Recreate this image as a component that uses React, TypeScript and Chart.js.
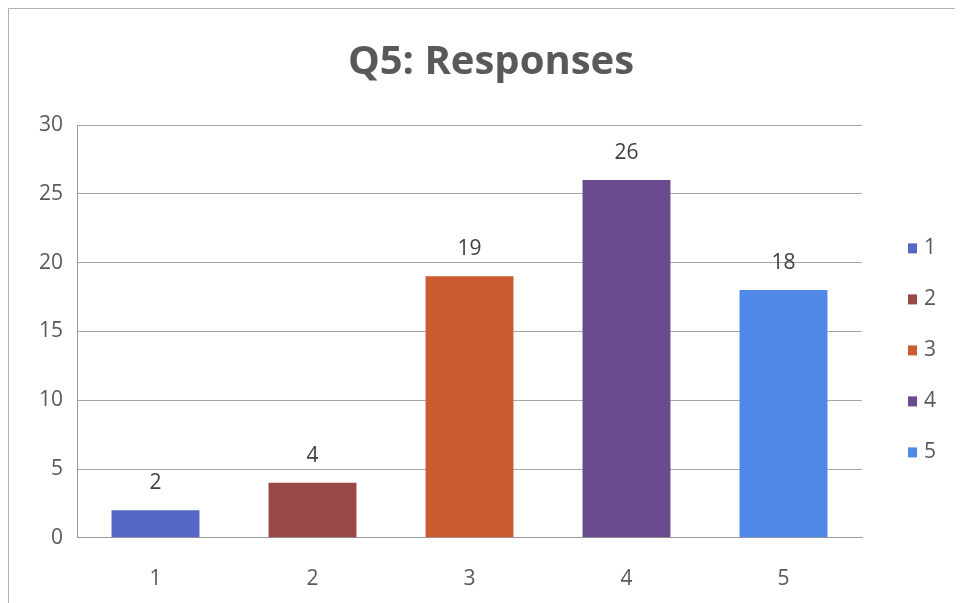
import React, { useEffect, useRef } from "react";
import { Chart, registerables } from "chart.js";

Chart.register(...registerables);

const categories = ["1", "2", "3", "4", "5"];
const responses = [2, 4, 19, 26, 18];
const barColors = ["#5566c4", "#984846", "#cc5a30", "#694a8c", "#4f88e6"];
const yTicks = [0, 5, 10, 15, 20, 25, 30];
const titleText = "Q5: Responses";

const FONT = "'Open Sans', Lato, sans-serif";
const TEXT_COLOR = "#595959";
const LABEL_SIZE = 21;

// Writes each bar's value centred above it.
const valueLabels = {
  id: "valueLabels",
  afterDatasetsDraw(chart: any) {
    const ctx = chart.ctx;
    const meta = chart.getDatasetMeta(0);
    ctx.save();
    ctx.font = `${LABEL_SIZE}px ${FONT}`;
    ctx.fillStyle = "#404040";
    ctx.textAlign = "center";
    ctx.textBaseline = "middle";
    meta.data.forEach((bar: any, i: number) => {
      ctx.fillText(String(responses[i]), bar.x, bar.y - 27);
    });
    ctx.restore();
  },
};

// Legend column to the right of the plot: one coloured square per category.
const sideLegend = {
  id: "sideLegend",
  afterDraw(chart: any) {
    const { ctx, chartArea } = chart;
    const step = 51;
    const cy = (chartArea.top + chartArea.bottom) / 2 + 19;
    const x0 = chartArea.right + 46;
    ctx.save();
    ctx.font = `${LABEL_SIZE}px ${FONT}`;
    ctx.textAlign = "left";
    ctx.textBaseline = "middle";
    categories.forEach((c, i) => {
      const y = cy + (i - (categories.length - 1) / 2) * step;
      ctx.fillStyle = barColors[i];
      ctx.fillRect(x0, y - 5, 9, 10);
      ctx.fillStyle = TEXT_COLOR;
      ctx.fillText(c, x0 + 16, y);
    });
    ctx.restore();
  },
};

export default function App() {
  const canvasRef = useRef<HTMLCanvasElement | null>(null);

  useEffect(() => {
    document.body.style.overflow = "hidden";
    const canvas = canvasRef.current;
    if (!canvas) return;
    const chart = new Chart(canvas, {
      type: "bar",
      data: {
        labels: categories,
        datasets: [
          {
            data: responses,
            backgroundColor: barColors,
            borderWidth: 0,
            categoryPercentage: 1,
            barPercentage: 0.56,
          },
        ],
      },
      options: {
        animation: false,
        responsive: false,
        maintainAspectRatio: false,
        layout: { padding: { left: 10, right: 0, top: 20, bottom: -18 } },
        plugins: {
          title: {
            display: true,
            text: titleText,
            color: TEXT_COLOR,
            font: { family: FONT, size: 40, weight: "bold" },
            padding: { top: 10, bottom: 38 },
          },
          legend: { display: false },
          tooltip: { enabled: false },
        },
        scales: {
          x: {
            grid: { display: false, drawTicks: false },
            border: { display: true, color: "#9a9a9a", width: 1 },
            ticks: { color: TEXT_COLOR, font: { family: FONT, size: LABEL_SIZE }, padding: 29 },
          },
          y: {
            min: 0,
            max: 30,
            afterBuildTicks: (scale: any) => {
              scale.ticks = yTicks.map((v) => ({ value: v }));
            },
            afterFit: (scale: any) => {
              scale.width = 58;
            },
            grid: { color: "#a6a6a6", lineWidth: 1, drawTicks: false },
            border: { display: true, color: "#9a9a9a", width: 1 },
            ticks: { color: TEXT_COLOR, font: { family: FONT, size: LABEL_SIZE }, padding: 14 },
          },
          // empty right-hand strip that holds the legend column
          legendSpace: {
            type: "linear",
            position: "right",
            display: true,
            grid: { display: false, drawTicks: false },
            border: { display: false },
            ticks: { display: false },
            afterFit: (scale: any) => {
              scale.width = 101;
            },
          },
        },
      },
      plugins: [valueLabels, sideLegend],
    });
    return () => chart.destroy();
  }, []);

  return (
    <div
      style={{
        width: 954,
        height: 594,
        borderLeft: "1px solid #b0b0b0",
        borderTop: "1px solid #b0b0b0",
        background: "#ffffff",
      }}
    >
      <canvas ref={canvasRef} width={954} height={594} style={{ display: "block" }} />
    </div>
  );
}
